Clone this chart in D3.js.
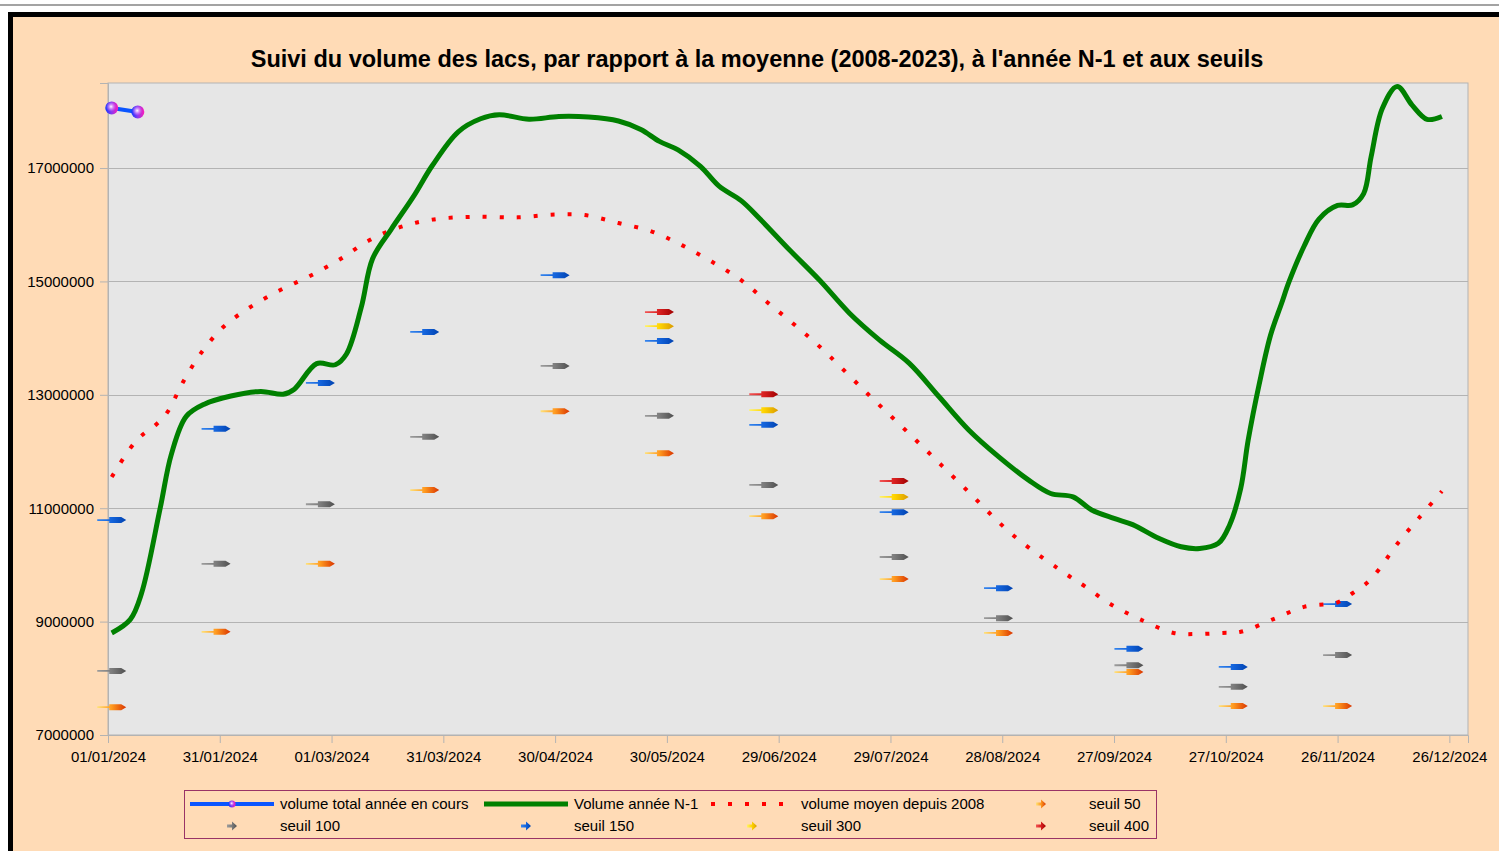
<!DOCTYPE html>
<html>
<head>
<meta charset="utf-8">
<script src="https://cdn.jsdelivr.net/npm/d3@7"></script>
<style>
  body { margin: 0; background: #fff; }
  svg { display: block; font-family: "Liberation Sans", Arial, sans-serif; }
</style>
</head>
<body>
<div id="chart"></div>
<script>
// ---- data ----
const xTickLabels = ["01/01/2024", "31/01/2024", "01/03/2024", "31/03/2024", "30/04/2024", "30/05/2024",
  "29/06/2024", "29/07/2024", "28/08/2024", "27/09/2024", "27/10/2024", "26/11/2024", "26/12/2024"];
const yTickValues = [7000000, 9000000, 11000000, 13000000, 15000000, 17000000];

// volume total année en cours
const currentDates = ["02/01/2024", "09/01/2024"];
const currentValues = [18060000, 17990000];

// Volume année N-1
const prevDates = [
  "02/01/2024", "07/01/2024", "10/01/2024", "15/01/2024", "18/01/2024", "22/01/2024", "27/01/2024", "03/02/2024", "11/02/2024", "17/02/2024",
  "20/02/2024", "26/02/2024", "02/03/2024", "05/03/2024", "09/03/2024", "12/03/2024", "17/03/2024", "23/03/2024", "28/03/2024", "04/04/2024",
  "10/04/2024", "15/04/2024", "23/04/2024", "01/05/2024", "09/05/2024", "17/05/2024", "23/05/2024", "28/05/2024", "02/06/2024", "08/06/2024",
  "13/06/2024", "19/06/2024", "24/06/2024", "02/07/2024", "10/07/2024", "18/07/2024", "26/07/2024", "03/08/2024", "11/08/2024", "19/08/2024",
  "27/08/2024", "04/09/2024", "10/09/2024", "16/09/2024", "21/09/2024", "27/09/2024", "02/10/2024", "09/10/2024", "15/10/2024", "20/10/2024",
  "25/10/2024", "28/10/2024", "31/10/2024", "02/11/2024", "05/11/2024", "08/11/2024", "11/11/2024", "13/11/2024", "17/11/2024", "21/11/2024",
  "26/11/2024", "30/11/2024", "03/12/2024", "05/12/2024", "08/12/2024", "12/12/2024", "16/12/2024", "20/12/2024", "24/12/2024"];
const prevValues = [
  8800000, 9040000, 9500000, 11000000, 11950000, 12620000, 12840000, 12980000, 13060000, 13010000,
  13100000, 13550000, 13530000, 13720000, 14550000, 15400000, 15920000, 16500000, 17040000, 17640000,
  17870000, 17940000, 17860000, 17910000, 17900000, 17830000, 17680000, 17470000, 17320000, 17030000,
  16680000, 16420000, 16100000, 15550000, 15020000, 14440000, 13970000, 13560000, 12970000, 12380000,
  11910000, 11500000, 11260000, 11200000, 10970000, 10820000, 10710000, 10470000, 10320000, 10290000,
  10380000, 10700000, 11350000, 12200000, 13200000, 14050000, 14620000, 15000000, 15620000, 16100000,
  16340000, 16350000, 16550000, 17200000, 18050000, 18440000, 18110000, 17860000, 17910000];

// volume moyen depuis 2008
const avgDates = [
  "02/01/2024", "07/01/2024", "10/01/2024", "14/01/2024", "17/01/2024", "21/01/2024", "26/01/2024", "01/02/2024", "08/02/2024", "16/02/2024",
  "24/02/2024", "03/03/2024", "11/03/2024", "19/03/2024", "28/03/2024", "08/04/2024", "20/04/2024", "30/04/2024", "08/05/2024", "17/05/2024",
  "26/05/2024", "03/06/2024", "11/06/2024", "19/06/2024", "26/06/2024", "03/07/2024", "10/07/2024", "23/07/2024", "05/08/2024", "18/08/2024",
  "31/08/2024", "15/09/2024", "19/09/2024", "26/09/2024", "04/10/2024", "13/10/2024", "19/10/2024", "26/10/2024", "31/10/2024", "09/11/2024",
  "17/11/2024", "26/11/2024", "30/11/2024", "04/12/2024", "07/12/2024", "12/12/2024", "18/12/2024", "24/12/2024"];
const avgValues = [
  11550000, 12060000, 12280000, 12480000, 12700000, 13210000, 13740000, 14200000, 14540000, 14840000,
  15090000, 15380000, 15720000, 15950000, 16090000, 16140000, 16130000, 16180000, 16170000, 16030000,
  15880000, 15640000, 15350000, 15020000, 14630000, 14250000, 13850000, 13010000, 12190000, 11350000,
  10520000, 9800000, 9630000, 9310000, 9040000, 8800000, 8780000, 8800000, 8820000, 9050000,
  9260000, 9340000, 9500000, 9690000, 9910000, 10370000, 10840000, 11300000];

// seuils
const seuilDates = ["02/01/2024", "30/01/2024", "27/02/2024", "26/03/2024", "30/04/2024", "28/05/2024",
  "25/06/2024", "30/07/2024", "27/08/2024", "01/10/2024", "29/10/2024", "26/11/2024"];
const seuil50 = [7490000, 8820000, 10020000, 11320000, 12710000, 11970000, 10860000, 9750000, 8800000, 8110000, 7510000, 7510000];
const seuil100 = [8130000, 10020000, 11070000, 12260000, 13510000, 12630000, 11410000, 10140000, 9060000, 8230000, 7850000, 8410000];
const seuil150 = [10790000, 12400000, 13210000, 14110000, 15110000, 13950000, 12470000, 10930000, 9590000, 8520000, 8200000, 9310000];
const seuil300 = [null, null, null, null, null, 14210000, 12730000, 11200000, null, null, null, null];
const seuil400 = [null, null, null, null, null, 14460000, 13010000, 11480000, null, null, null, null];

// ---- chart ----
const W = 1499, H = 851;
const plot = { left: 108, top: 83, right: 1468, bottom: 735 };
const parse = d3.utcParse("%d/%m/%Y");

const svg = d3.select("#chart").append("svg").attr("width", W).attr("height", H);
const defs = svg.append("defs");

// page chrome: thin grey rule on top, black framed peach chart area
svg.append("rect").attr("x", 0).attr("y", 4).attr("width", W).attr("height", 2).attr("fill", "#a3a3a3");
svg.append("rect")
  .attr("x", 10.5).attr("y", 14.5).attr("width", W + 20).attr("height", H + 20)
  .attr("fill", "#ffdbb6").attr("stroke", "#000").attr("stroke-width", 5);

svg.append("text")
  .attr("x", 757).attr("y", 67)
  .attr("text-anchor", "middle")
  .attr("font-size", 23.5).attr("font-weight", "bold")
  .text("Suivi du volume des lacs, par rapport à la moyenne (2008-2023), à l'année N-1 et aux seuils");

const x = d3.scaleUtc()
  .domain([parse("01/01/2024"), parse("31/12/2024")])
  .range([plot.left, plot.right]);
const y = d3.scaleLinear()
  .domain([7000000, 18500000])
  .range([plot.bottom, plot.top]);

svg.append("rect")
  .attr("x", plot.left).attr("y", plot.top)
  .attr("width", plot.right - plot.left).attr("height", plot.bottom - plot.top)
  .attr("fill", "#e6e6e6").attr("stroke", "#b3b3b3");

// horizontal grid
svg.append("g")
  .selectAll("line")
  .data(yTickValues)
  .join("line")
  .attr("x1", plot.left).attr("x2", plot.right)
  .attr("y1", d => Math.round(y(d)) + 0.5).attr("y2", d => Math.round(y(d)) + 0.5)
  .attr("stroke", "#b3b3b3");

// axes
const yAxis = svg.append("g")
  .attr("transform", `translate(${plot.left},0)`)
  .call(d3.axisLeft(y).tickValues(yTickValues).tickSize(8).tickPadding(6).tickFormat(d3.format("d")));
const xAxis = svg.append("g")
  .attr("transform", `translate(0,${plot.bottom})`)
  .call(d3.axisBottom(x).tickValues(xTickLabels.map(parse)).tickSize(8).tickPadding(8)
    .tickFormat(d3.utcFormat("%d/%m/%Y")));
[xAxis, yAxis].forEach(a => {
  a.select(".domain").attr("stroke", "#b3b3b3");
  a.selectAll(".tick line").attr("stroke", "#b3b3b3");
  a.selectAll("text").attr("font-size", 15).attr("fill", "#000")
    .attr("font-family", "'Liberation Sans', Arial, sans-serif");
});

// arrow symbols for the thresholds
const seuilSeries = [
  { name: "seuil 50", values: seuil50, colors: ["#ffe27a", "#ff9a1f", "#d93400"] },
  { name: "seuil 100", values: seuil100, colors: ["#9c9c9c", "#7d7d7d", "#4f4f4f"] },
  { name: "seuil 150", values: seuil150, colors: ["#3585ee", "#1464dc", "#0042b0"] },
  { name: "seuil 300", values: seuil300, colors: ["#fff36a", "#ffd400", "#d99a00"] },
  { name: "seuil 400", values: seuil400, colors: ["#f25555", "#d92020", "#a00000"] },
];
seuilSeries.forEach((s, i) => {
  const g = defs.append("linearGradient").attr("id", "arrow" + i);
  s.colors.forEach((c, k) => g.append("stop").attr("offset", k / 2).attr("stop-color", c));
});
const arrowPath = "M-14.5,-0.9H-2.5V-3H9.5L14.5,0L9.5,3H-2.5V0.9H-14.5Z";

seuilSeries.forEach((s, i) => {
  const pts = seuilDates.map((d, k) => ({ date: parse(d), value: s.values[k] }))
    .filter(p => p.value != null);
  svg.append("g")
    .selectAll("path")
    .data(pts)
    .join("path")
    .attr("transform", p => `translate(${x(p.date)},${y(p.value)})`)
    .attr("d", arrowPath)
    .attr("fill", `url(#arrow${i})`);
});

// average line (red dotted)
const avgData = avgDates.map((d, i) => ({ date: parse(d), value: avgValues[i] }));
const smooth = d3.line().x(d => x(d.date)).y(d => y(d.value)).curve(d3.curveCatmullRom.alpha(0.5));
svg.append("path")
  .datum(avgData)
  .attr("d", smooth)
  .attr("fill", "none")
  .attr("stroke", "#ff0000").attr("stroke-width", 4)
  .attr("stroke-dasharray", "4,13");

// N-1 line
const prevData = prevDates.map((d, i) => ({ date: parse(d), value: prevValues[i] }));
svg.append("path")
  .datum(prevData)
  .attr("d", smooth)
  .attr("fill", "none")
  .attr("stroke", "#008000").attr("stroke-width", 5);

// current year: blue line with shaded spheres
const sphereBase = defs.append("linearGradient").attr("id", "sphere-base");
sphereBase.append("stop").attr("offset", 0).attr("stop-color", "#1238ff");
sphereBase.append("stop").attr("offset", 0.5).attr("stop-color", "#8a38f0");
sphereBase.append("stop").attr("offset", 1).attr("stop-color", "#ff1cb8");
const sphereHi = defs.append("radialGradient").attr("id", "sphere-hi")
  .attr("cx", "45%").attr("cy", "40%").attr("r", "40%");
sphereHi.append("stop").attr("offset", 0).attr("stop-color", "#fff").attr("stop-opacity", 1);
sphereHi.append("stop").attr("offset", 0.45).attr("stop-color", "#ffc0ff").attr("stop-opacity", 0.55);
sphereHi.append("stop").attr("offset", 1).attr("stop-color", "#ff80ff").attr("stop-opacity", 0);

const curData = currentDates.map((d, i) => ({ date: parse(d), value: currentValues[i] }));
svg.append("path")
  .datum(curData)
  .attr("d", d3.line().x(d => x(d.date)).y(d => y(d.value)))
  .attr("fill", "none").attr("stroke", "#0a55ff").attr("stroke-width", 4);

function sphere(sel, r) {
  sel.append("circle").attr("r", r).attr("fill", "url(#sphere-base)");
  sel.append("circle").attr("r", r).attr("fill", "url(#sphere-hi)");
}
svg.append("g")
  .selectAll("g")
  .data(curData)
  .join("g")
  .attr("transform", d => `translate(${x(d.date)},${y(d.value)})`)
  .each(function () { sphere(d3.select(this), 6.5); });

// ---- legend ----
const legend = svg.append("g").attr("font-size", 15);
legend.append("rect")
  .attr("x", 184.5).attr("y", 790.5).attr("width", 972).attr("height", 48)
  .attr("fill", "#ffdbb6").attr("stroke", "#993366");

const rowY = [804, 826];
const textX = [280, 574, 801, 1089];
const symX = [232, 526, 752, 1041];
const smallArrow = "M-5,-1.6H0V-4.5L5,0L0,4.5V1.6H-5Z";

// row 1
legend.append("line").attr("x1", 190).attr("x2", 274).attr("y1", rowY[0]).attr("y2", rowY[0])
  .attr("stroke", "#0a55ff").attr("stroke-width", 4);
sphere(legend.append("g").attr("transform", `translate(${symX[0]},${rowY[0]})`), 3.5);
legend.append("line").attr("x1", 484).attr("x2", 568).attr("y1", rowY[0]).attr("y2", rowY[0])
  .attr("stroke", "#008000").attr("stroke-width", 5);
legend.append("line").attr("x1", 711).attr("x2", 790).attr("y1", rowY[0]).attr("y2", rowY[0])
  .attr("stroke", "#ff0000").attr("stroke-width", 4).attr("stroke-dasharray", "4,13");

const legendItems = [
  { label: "volume total année en cours", col: 0, row: 0 },
  { label: "Volume année N-1", col: 1, row: 0 },
  { label: "volume moyen depuis 2008", col: 2, row: 0 },
  { label: seuilSeries[0].name, col: 3, row: 0, arrow: 0 },
  { label: seuilSeries[1].name, col: 0, row: 1, arrow: 1 },
  { label: seuilSeries[2].name, col: 1, row: 1, arrow: 2 },
  { label: seuilSeries[3].name, col: 2, row: 1, arrow: 3 },
  { label: seuilSeries[4].name, col: 3, row: 1, arrow: 4 },
];
legendItems.forEach(it => {
  if (it.arrow != null) {
    legend.append("path")
      .attr("transform", `translate(${symX[it.col]},${rowY[it.row]})`)
      .attr("d", smallArrow)
      .attr("fill", `url(#arrow${it.arrow})`);
  }
  legend.append("text")
    .attr("x", textX[it.col]).attr("y", rowY[it.row] + 5)
    .text(it.label);
});
</script>
</body>
</html>
